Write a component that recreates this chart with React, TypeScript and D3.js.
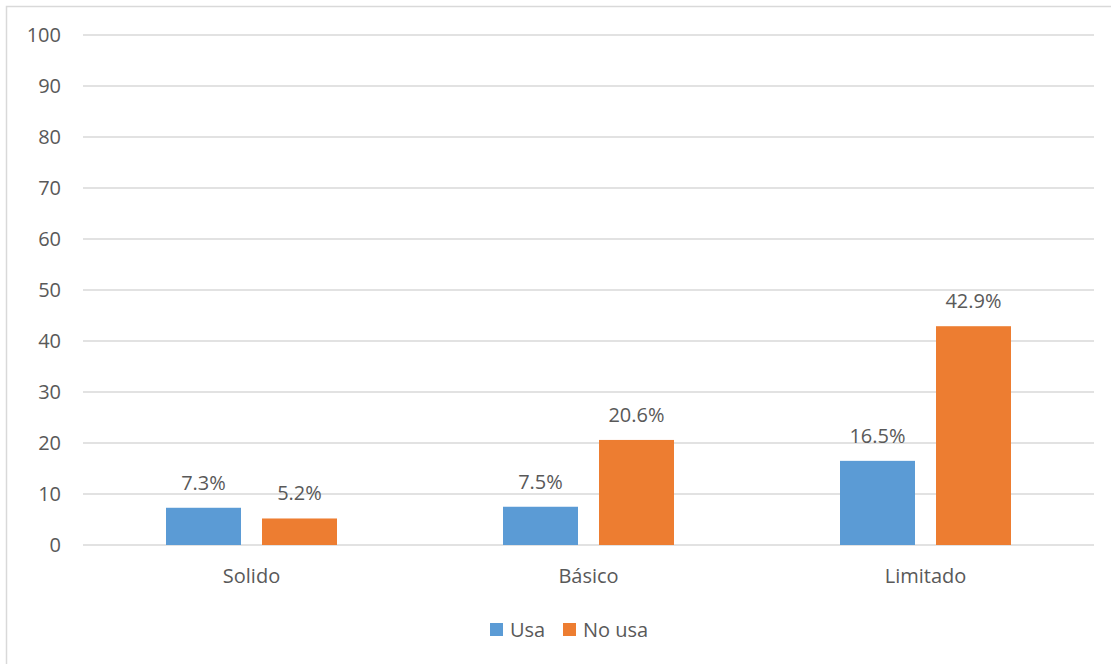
import React from "react";
import * as d3 from "d3";

const categories = ["Solido", "Básico", "Limitado"];
const seriesNames = ["Usa", "No usa"];
const usaValues = [7.3, 7.5, 16.5];
const noUsaValues = [5.2, 20.6, 42.9];
const yTicks = [0, 10, 20, 30, 40, 50, 60, 70, 80, 90, 100];
const colors = ["#5B9BD5", "#ED7D31"];

const W = 1111;
const H = 664;
const margin = { left: 83, right: 17, top: 35, bottom: 119 };
const FONT = "'Open Sans', 'DejaVu Sans', sans-serif";
const TEXT = "#595959";
const FS = 20;

export default function App() {
  const x = d3.scaleBand<string>().domain(categories).range([margin.left, W - margin.right]);
  const y = d3.scaleLinear().domain([0, 100]).range([H - margin.bottom, margin.top]);
  const barW = 75;
  const gap = 21;
  const series = [usaValues, noUsaValues];

  return (
    <svg width={W} height={H} style={{ position: "absolute", left: 0, top: 0, background: "#fff" }}>
      <rect x={6.5} y={6.5} width={W + 10} height={H + 10} fill="#fff" stroke="#d9d9d9" strokeWidth={1.5} />
      {yTicks.map((t) => (
        <g key={t}>
          <line x1={margin.left} x2={W - margin.right} y1={y(t)} y2={y(t)} stroke="#d9d9d9" strokeWidth={1.5} />
          <text x={61} y={y(t)} dy="0.35em" textAnchor="end" fontFamily={FONT} fontSize={FS} fill={TEXT}>
            {t}
          </text>
        </g>
      ))}
      {categories.map((c, i) => {
        const cx = x(c)! + x.bandwidth() / 2;
        const start = cx - (barW * 2 + gap) / 2;
        return (
          <g key={c}>
            {series.map((s, j) => {
              const bx = start + j * (barW + gap);
              return (
                <g key={j}>
                  <rect x={bx} y={y(s[i])} width={barW} height={y(0) - y(s[i])} fill={colors[j]} />
                  <text x={bx + barW / 2} y={y(s[i]) - 18} textAnchor="middle" fontFamily={FONT} fontSize={FS} fill={TEXT}>
                    {s[i].toFixed(1)}%
                  </text>
                </g>
              );
            })}
            <text x={cx} y={583} textAnchor="middle" fontFamily={FONT} fontSize={FS} fill={TEXT}>
              {c}
            </text>
          </g>
        );
      })}
      {seriesNames.map((n, j) => {
        const lx = j === 0 ? 490 : 563;
        return (
          <g key={n}>
            <rect x={lx} y={623} width={13} height={13} fill={colors[j]} />
            <text x={lx + 20} y={637} fontFamily={FONT} fontSize={FS} fill={TEXT}>
              {n}
            </text>
          </g>
        );
      })}
    </svg>
  );
}
